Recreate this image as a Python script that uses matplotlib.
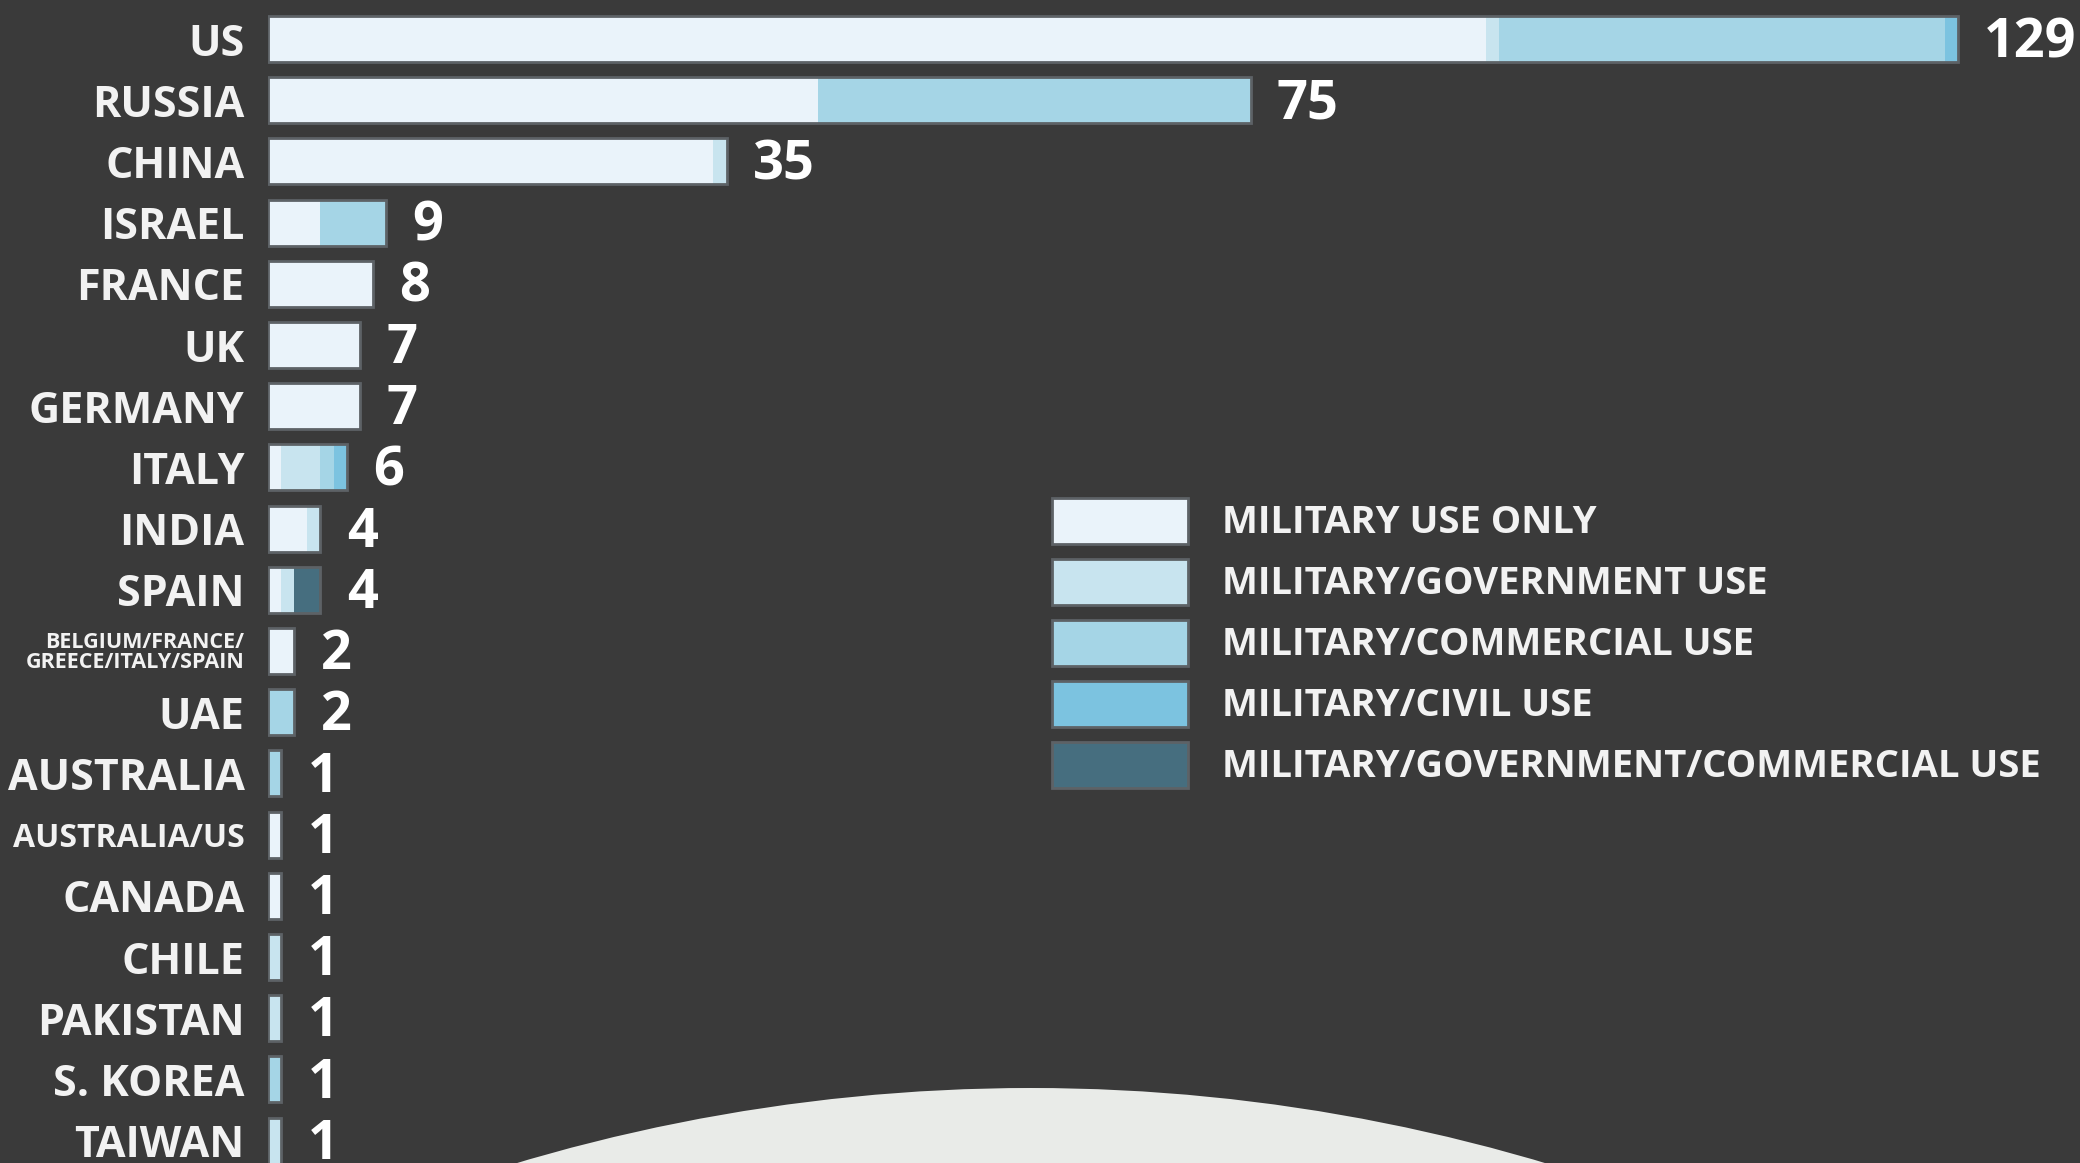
import matplotlib.pyplot as plt
import matplotlib.patches as mpatches
import numpy as np

# Daten: Satelliten nach Land und Nutzungsart
countries = ['US', 'RUSSIA', 'CHINA', 'ISRAEL', 'FRANCE', 'UK', 'GERMANY', 'ITALY',
             'INDIA', 'SPAIN', 'BELGIUM/FRANCE/\nGREECE/ITALY/SPAIN', 'UAE', 'AUSTRALIA',
             'AUSTRALIA/US', 'CANADA', 'CHILE', 'PAKISTAN', 'S. KOREA', 'TAIWAN']
military_only = [93, 42, 34, 4, 8, 7, 7, 1, 3, 1, 2, 0, 0, 1, 1, 0, 0, 0, 0]
military_gov = [1, 0, 1, 0, 0, 0, 0, 3, 1, 1, 0, 0, 0, 0, 0, 1, 1, 0, 1]
military_comm = [34, 33, 0, 5, 0, 0, 0, 1, 0, 0, 0, 2, 1, 0, 0, 0, 0, 1, 0]
military_civil = [1, 0, 0, 0, 0, 0, 0, 1, 0, 0, 0, 0, 0, 0, 0, 0, 0, 0, 0]
military_gov_comm = [0, 0, 0, 0, 0, 0, 0, 0, 0, 2, 0, 0, 0, 0, 0, 0, 0, 0, 0]

series_labels = ['MILITARY USE ONLY', 'MILITARY/GOVERNMENT USE', 'MILITARY/COMMERCIAL USE',
                 'MILITARY/CIVIL USE', 'MILITARY/GOVERNMENT/COMMERCIAL USE']
series_colors = ['#eaf3fa', '#c8e4ef', '#a5d5e6', '#7cc3e0', '#466e7f']

bg = '#3a3a3a'
W, H = 2080, 1163
fig = plt.figure(figsize=(W / 100, H / 100), dpi=100, facecolor=bg)
plt.rcParams['font.family'] = ['Open Sans', 'DejaVu Sans']

# Hintergrund-Kugel unten
globe = mpatches.Ellipse((1031 / W, 1 - 2887 / H), 2 * 1799 / W, 2 * 1799 / H,
                         transform=fig.transFigure, facecolor='#e9ebe8', edgecolor='none', zorder=0)
fig.patches.append(globe)

x0 = 268
ax = fig.add_axes([x0 / W, 0, 1 - x0 / W, 1])
ax.set_facecolor('none')
ax.set_xlim(0, (W - x0) / 13.1)
row_h = 61.2
ax.set_ylim((H - 39) / row_h, -39 / row_h)

y = np.arange(len(countries))
series = [military_only, military_gov, military_comm, military_civil, military_gov_comm]
left = np.zeros(len(countries))
for vals, col in zip(series, series_colors):
    ax.barh(y, vals, left=left, height=0.75, color=col, edgecolor='none', zorder=2)
    left += np.array(vals)

# dunkle Umrandung wie im Original
ax.barh(y, left, height=0.75, fill=False, edgecolor='#5d6266', linewidth=2, zorder=3)

for yi, total in zip(y, left):
    ax.annotate(f'{int(total)}', (total, yi), xytext=(19, -3), textcoords='offset points',
                ha='left', va='center', color='white', fontsize=39, fontweight='bold')

ax.set_yticks(y)
ax.set_yticklabels(countries)
ax.tick_params(axis='y', length=0, pad=17)
for lab in ax.get_yticklabels():
    lab.set_color('#f2f2f2')
    lab.set_fontweight('bold')
    lab.set_fontsize(31)
    if '\n' in lab.get_text():
        lab.set_fontsize(15.5)
        lab.set_linespacing(0.9)
    elif lab.get_text() == 'AUSTRALIA/US':
        lab.set_fontsize(23)
ax.set_xticks([])
for s in ax.spines.values():
    s.set_visible(False)

# Legende
for i, (lbl, col) in enumerate(zip(series_labels, series_colors)):
    cy = 521 + 61 * i
    fig.patches.append(mpatches.Rectangle((1052 / W, 1 - (cy + 23) / H), 136 / W, 46 / H,
                                          transform=fig.transFigure, facecolor=col,
                                          edgecolor='#5d6266', linewidth=2, zorder=2))
    fig.text(1222 / W, 1 - (cy + 2) / H, lbl, color='#f2f2f2', fontsize=27.5, fontweight='bold',
             ha='left', va='center')

fig.savefig('out.png', dpi=100, facecolor=bg)
